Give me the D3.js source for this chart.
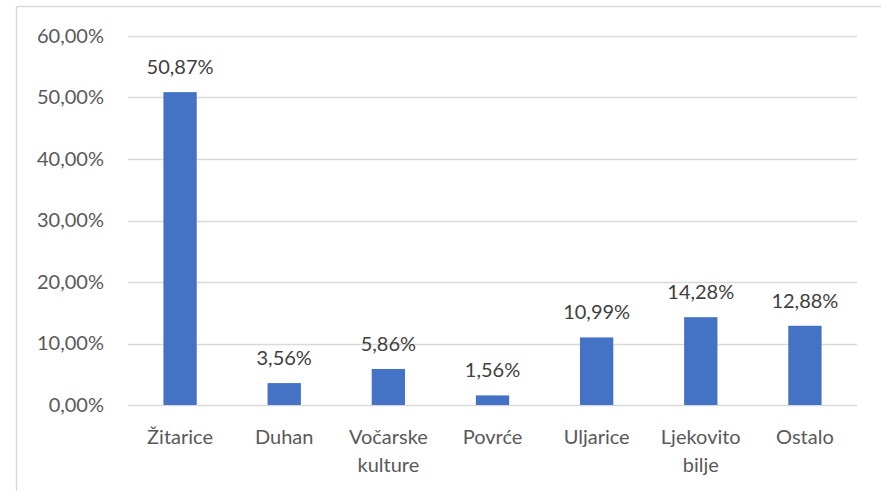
<!DOCTYPE html>
<html>
<head>
<meta charset="utf-8">
<script src="https://cdn.jsdelivr.net/npm/d3@7"></script>
<style>
  body { margin: 0; background: #fff; }
  svg text { font-family: Lato, "Open Sans", sans-serif; }
</style>
</head>
<body>
<svg id="chart" width="881" height="491"></svg>
<script>
// Chart data
const categories = ["Žitarice", "Duhan", "Vočarske kulture", "Povrće", "Uljarice", "Ljekovito bilje", "Ostalo"];
const categoryLines = [["Žitarice"], ["Duhan"], ["Vočarske", "kulture"], ["Povrće"], ["Uljarice"], ["Ljekovito", "bilje"], ["Ostalo"]];
const values = [50.87, 3.56, 5.86, 1.56, 10.99, 14.28, 12.88];
const yTicks = [0, 10, 20, 30, 40, 50, 60];

const fmt = (v) => v.toFixed(2).replace(".", ",") + "%";
const fontSize = "20px";

const svg = d3.select("#chart");

// outer chart border (only top and left visible in the crop)
svg.append("line").attr("x1", 16.5).attr("x2", 881).attr("y1", 6.5).attr("y2", 6.5)
    .attr("stroke", "#d9d9d9").attr("stroke-width", 1.5);
svg.append("line").attr("x1", 16.5).attr("x2", 16.5).attr("y1", 6.5).attr("y2", 491)
    .attr("stroke", "#d9d9d9").attr("stroke-width", 1.5);

const margin = { left: 128, right: 24, top: 36, bottom: 86 };
const width = 881 - margin.left - margin.right;
const height = 491 - margin.top - margin.bottom;

const g = svg.append("g").attr("transform", `translate(${margin.left},${margin.top})`);

const x = d3.scaleBand().domain(categories).range([0, width]).paddingInner(0.68).paddingOuter(0.34);
const y = d3.scaleLinear().domain([0, 60]).range([height, 0]);

// gridlines
g.selectAll("line.grid")
    .data(yTicks)
    .enter()
    .append("line")
    .attr("class", "grid")
    .attr("x1", 0)
    .attr("x2", width)
    .attr("y1", (d) => Math.round(y(d)) + 0.5)
    .attr("y2", (d) => Math.round(y(d)) + 0.5)
    .attr("stroke", "#d9d9d9")
    .attr("stroke-width", 1.5);

// y axis labels
const yAxis = g.append("g")
    .call(d3.axisLeft(y).tickValues(yTicks).tickSize(0).tickPadding(24).tickFormat(fmt));
yAxis.select(".domain").remove();
yAxis.selectAll("text").attr("fill", "#595959").style("font-size", fontSize);

// bars
g.selectAll("rect.bar")
    .data(values)
    .enter()
    .append("rect")
    .attr("class", "bar")
    .attr("x", (d, i) => x(categories[i]))
    .attr("y", (d) => y(d))
    .attr("width", x.bandwidth())
    .attr("height", (d) => height - y(d))
    .attr("fill", "#4472c4");

// data labels
g.selectAll("text.label")
    .data(values)
    .enter()
    .append("text")
    .attr("class", "label")
    .attr("x", (d, i) => x(categories[i]) + x.bandwidth() / 2)
    .attr("y", (d) => y(d) - 18)
    .attr("text-anchor", "middle")
    .attr("fill", "#404040")
    .style("font-size", fontSize)
    .text(fmt);

// category labels
const cat = g.selectAll("text.cat")
    .data(categoryLines)
    .enter()
    .append("text")
    .attr("class", "cat")
    .attr("text-anchor", "middle")
    .attr("fill", "#595959")
    .style("font-size", fontSize)
    .attr("transform", (d, i) => `translate(${x(categories[i]) + x.bandwidth() / 2},${height + 39})`);
cat.selectAll("tspan")
    .data((d) => d)
    .enter()
    .append("tspan")
    .attr("x", 0)
    .attr("dy", (d, i) => (i === 0 ? 0 : 28))
    .text((d) => d);
</script>
</body>
</html>
